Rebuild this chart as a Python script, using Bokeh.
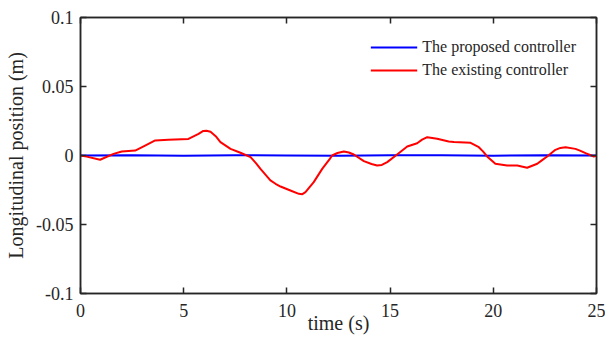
from bokeh.plotting import figure
from bokeh.models import FixedTicker, LinearAxis, Legend, LegendItem, Range1d, CustomJSTickFormatter
from bokeh.embed import file_html
from bokeh.resources import INLINE

# Time samples (s) and longitudinal position error (m) for each controller
t_proposed = [0.0, 2.5, 5.0, 7.5, 10.0, 12.5, 15.0, 17.5, 20.0, 22.5, 25.0]
x_proposed = [0.0, 0.0001, -0.0001, 0.0002, 0.0, -0.0001, 0.0001, 0.0001, -0.0001, 0.0001, 0.0]

t_existing = [0.0, 0.3, 0.95, 1.6, 2.0, 2.65, 3.13, 3.62, 4.26, 5.23, 5.72, 5.95,
              6.1, 6.3, 6.55, 6.78, 7.27, 7.75, 8.24, 8.5, 8.72, 9.2, 9.45, 9.69,
              10.17, 10.58, 10.75, 10.9, 11.3, 11.71, 12.08, 12.19, 12.45, 12.76,
              13.0, 13.24, 13.73, 14.1, 14.37, 14.6, 14.86, 15.34, 15.83, 16.31,
              16.55, 16.8, 17.28, 17.84, 18.09, 18.9, 19.3, 19.5, 19.7, 20.1, 20.67,
              21.16, 21.64, 22.13, 22.35, 22.61, 23.01, 23.25, 23.5, 23.98, 24.2,
              24.47, 24.87, 25.0]
x_existing = [0.0, -0.0008, -0.0031, 0.0012, 0.0029, 0.0036, 0.0072, 0.0109, 0.0114,
              0.012, 0.0157, 0.0178, 0.018, 0.0172, 0.014, 0.0097, 0.0048, 0.002,
              -0.0012, -0.0055, -0.0097, -0.018, -0.0205, -0.0225, -0.0254, -0.0278,
              -0.028, -0.0266, -0.0193, -0.0097, -0.0024, 0.0, 0.0018, 0.0029,
              0.0022, 0.0007, -0.0041, -0.0062, -0.0072, -0.0068, -0.0048, 0.0007,
              0.0065, 0.0089, 0.0115, 0.0133, 0.0121, 0.0101, 0.0097, 0.0092, 0.006,
              0.003, -0.0007, -0.006, -0.0072, -0.0072, -0.0089, -0.006, -0.0035,
              -0.0007, 0.0041, 0.0055, 0.006, 0.0048, 0.0035, 0.0017, -0.0007, 0.0]

x_ticks = [0, 5, 10, 15, 20, 25]
y_ticks = [-0.1, -0.05, 0, 0.05, 0.1]
y_tick_labels = ["-0.1", "-0.05", "0", "0.05", "0.1"]
legend_labels = ["The proposed controller", "The existing controller"]

FONT = "Liberation Serif"
INK = "#262626"

p = figure(width=605, height=341, output_backend="svg", toolbar_location=None,
           x_range=Range1d(0, 25), y_range=Range1d(-0.1, 0.1),
           min_border_left=80, min_border_right=9, min_border_top=17,
           min_border_bottom=48)
p.background_fill_color = "white"
p.border_fill_color = "white"
p.grid.visible = False
p.outline_line_color = INK
p.outline_line_width = 1.5

r_prop = p.line(t_proposed, x_proposed, line_color="#0000FF", line_width=2)
r_exist = p.line(t_existing, x_existing, line_color="#FF0000", line_width=2,
                 line_join="round")

# Mirrored axes on top and right close the box; they carry ticks only
blank = CustomJSTickFormatter(code="return '';")
p.add_layout(LinearAxis(formatter=blank, major_label_standoff=0), "above")
p.add_layout(LinearAxis(formatter=blank, major_label_standoff=0), "right")

for ax in p.xaxis:
    ax.ticker = FixedTicker(ticks=x_ticks)
for ax in p.yaxis:
    ax.ticker = FixedTicker(ticks=y_ticks)

for ax in p.axis:
    ax.axis_line_color = INK
    ax.axis_line_width = 1.5
    ax.major_tick_line_color = INK
    ax.major_tick_line_width = 1.5
    ax.major_tick_in = 6
    ax.major_tick_out = 0
    ax.minor_tick_line_color = None
    ax.major_label_text_font = FONT
    ax.major_label_text_font_size = "18px"
    ax.major_label_text_color = INK
    ax.axis_label_text_font = FONT
    ax.axis_label_text_font_size = "20px"
    ax.axis_label_text_font_style = "normal"
    ax.axis_label_text_color = INK

bottom = p.below[0]
bottom.axis_label = "time (s)"
bottom.major_label_standoff = 10
bottom.axis_label_standoff = -8

left = p.left[0]
left.axis_label = "Longitudinal position (m)"
left.major_label_overrides = {t: s for t, s in zip(y_ticks, y_tick_labels)}
left.major_label_standoff = 7
left.axis_label_standoff = 6

legend = Legend(items=[LegendItem(label=legend_labels[0], renderers=[r_prop]),
                       LegendItem(label=legend_labels[1], renderers=[r_exist])],
                location="top_right")
legend.border_line_color = None
legend.background_fill_alpha = 0
legend.label_text_font = FONT
legend.label_text_font_size = "16px"
legend.label_text_color = INK
legend.glyph_width = 47
legend.glyph_height = 20
legend.label_height = 20
legend.spacing = 3
legend.label_standoff = 5
legend.margin = 20
legend.padding = 10
p.add_layout(legend)

open("out.html", "w").write(file_html(p, INLINE))
